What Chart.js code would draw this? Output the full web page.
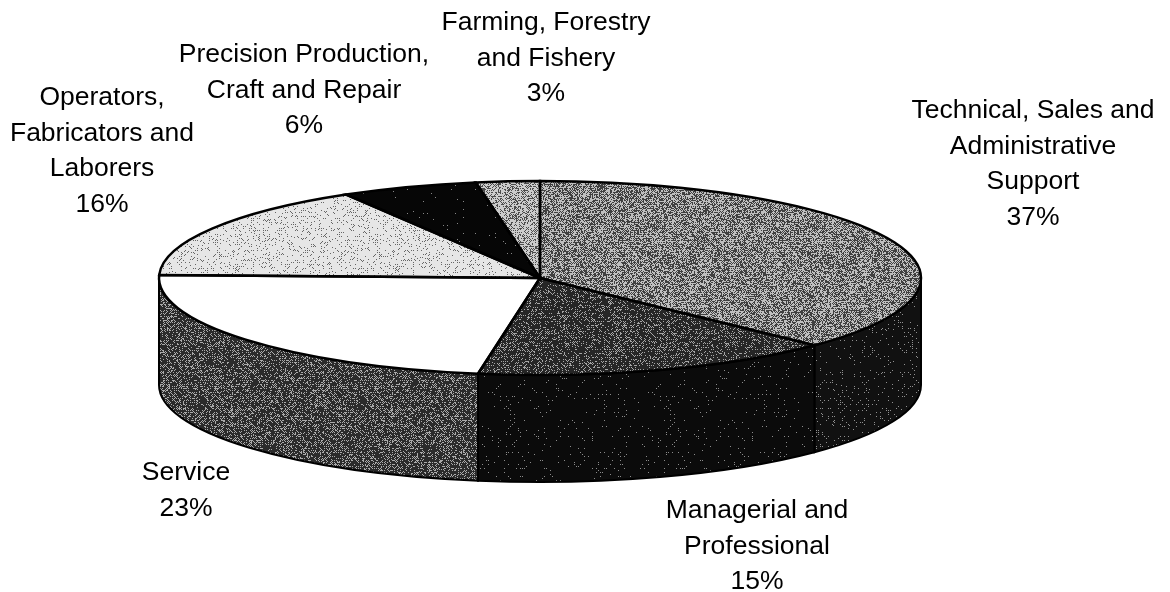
<!DOCTYPE html>
<html>
<head>
<meta charset="utf-8">
<style>
  html, body { margin: 0; padding: 0; background: #fff; }
  #wrap { width: 1170px; height: 592px; }
</style>
<script src="https://cdn.jsdelivr.net/npm/chart.js@4"></script>
</head>
<body>
<div id="wrap"><canvas id="pie3d" width="1170" height="592"></canvas></div>
<script>
const categories = [
  'Technical, Sales and Administrative Support',
  'Managerial and Professional',
  'Service',
  'Operators, Fabricators and Laborers',
  'Precision Production, Craft and Repair',
  'Farming, Forestry and Fishery'
];
const shares = [37.2, 15.4, 22.9, 16.0, 5.8, 2.7];
const labelLines = [
  ['Technical, Sales and', 'Administrative', 'Support'],
  ['Managerial and', 'Professional'],
  ['Service'],
  ['Operators,', 'Fabricators and', 'Laborers'],
  ['Precision Production,', 'Craft and Repair'],
  ['Farming, Forestry', 'and Fishery']
];

// how dark the grain is for each slice, 0 = black, 1 = white
const topTones = [0.5, 0.3, 1, 0.8, 0.05, 0.6];
const wallTones = [0.13, 0.09, 0.34, 0.5, 0.05, 0.4];

// where the squashed disc sits on the page
const disc = { cx: 540, cy: 278, rx: 381, ry: 97, depth: 107 };
const labelPos = [[1033, 111], [757, 511], [186, 473], [102, 98], [304, 55], [546, 23]];
const lineGap = 35.5;

const bayer = [
  [0, 8, 2, 10],
  [12, 4, 14, 6],
  [3, 11, 1, 9],
  [15, 7, 13, 5]
];

function grain(tone) {
  const size = 160;
  const c = document.createElement('canvas');
  c.width = c.height = size;
  const g = c.getContext('2d');
  const img = g.createImageData(size, size);
  const hash = (x, y, s) => {
    const v = Math.sin(x * 127.1 + y * 311.7 + s) * 43758.5453;
    return v - Math.floor(v);
  };
  for (let y = 0; y < size; y++) {
    for (let x = 0; x < size; x++) {
      const n = ((bayer[y % 4][x % 4] + 0.5) / 16) * 0.4 + hash(x, y, tone * 91) * 0.6;
      const on = tone >= 1 || n < tone;
      // soften the black/white speckle towards the slice's average grey
      const v = (on ? 255 : 0) * 0.5 + tone * 255 * 0.5;
      const i = (y * size + x) * 4;
      img.data[i] = img.data[i + 1] = img.data[i + 2] = v;
      img.data[i + 3] = 255;
    }
  }
  g.putImageData(img, 0, 0);
  return g.canvas;
}

const ctx = document.getElementById('pie3d').getContext('2d');
const topFills = topTones.map(t => ctx.createPattern(grain(t), 'repeat'));
const wallFills = wallTones.map(t => ctx.createPattern(grain(t), 'repeat'));

const squashPie = {
  id: 'squashPie',
  beforeDatasetsDraw(chart) {
    const c = chart.ctx;
    const arcs = chart.getDatasetMeta(0).data;
    const { cx, cy, rx, ry, depth } = disc;

    // side wall, only the front half of the disc can be seen
    arcs.forEach((arc, i) => {
      const a = Math.max(arc.startAngle, 0);
      const b = Math.min(arc.endAngle, Math.PI);
      if (b <= a) return;
      c.save();
      c.beginPath();
      c.ellipse(cx, cy, rx, ry, 0, a, b);
      c.ellipse(cx, cy + depth, rx, ry, 0, b, a, true);
      c.closePath();
      c.fillStyle = wallFills[i];
      c.fill();
      c.strokeStyle = '#000';
      c.lineWidth = 2;
      c.stroke();
      c.restore();
    });

    const r = arcs[0].outerRadius;
    const sx = rx / r;
    const sy = ry / r;
    topFills.forEach(p => p.setTransform(new DOMMatrix().scale(1 / sx, 1 / sy)));
    c.save();
    c.imageSmoothingEnabled = false;
    c.translate(cx, cy);
    c.scale(sx, sy);
    c.translate(-arcs[0].x, -arcs[0].y);
  },
  afterDatasetsDraw(chart) {
    const c = chart.ctx;
    c.restore();
    const { cx, cy, rx, ry } = disc;
    c.save();
    c.strokeStyle = '#000';
    c.lineWidth = 2.5;
    chart.getDatasetMeta(0).data.forEach(arc => {
      c.beginPath();
      c.moveTo(cx, cy);
      c.ellipse(cx, cy, rx, ry, 0, arc.startAngle, arc.endAngle);
      c.closePath();
      c.stroke();
    });
    c.restore();
  },
  afterDraw(chart) {
    const c = chart.ctx;
    c.save();
    c.fillStyle = '#000';
    c.font = '26.5px "Liberation Sans", Arial, sans-serif';
    c.textAlign = 'center';
    c.textBaseline = 'middle';
    categories.forEach((name, i) => {
      const lines = labelLines[i].concat(Math.round(shares[i]) + '%');
      const [x, y] = labelPos[i];
      lines.forEach((line, k) => c.fillText(line, x, y + k * lineGap));
    });
    c.restore();
  }
};

new Chart(ctx, {
  type: 'pie',
  data: {
    labels: categories,
    datasets: [{
      data: shares,
      backgroundColor: topFills,
      borderWidth: 0,
      clip: false
    }]
  },
  options: {
    responsive: false,
    animation: false,
    layout: { padding: 0 },
    plugins: { legend: { display: false }, tooltip: { enabled: false } }
  },
  plugins: [squashPie]
});
</script>
</body>
</html>
